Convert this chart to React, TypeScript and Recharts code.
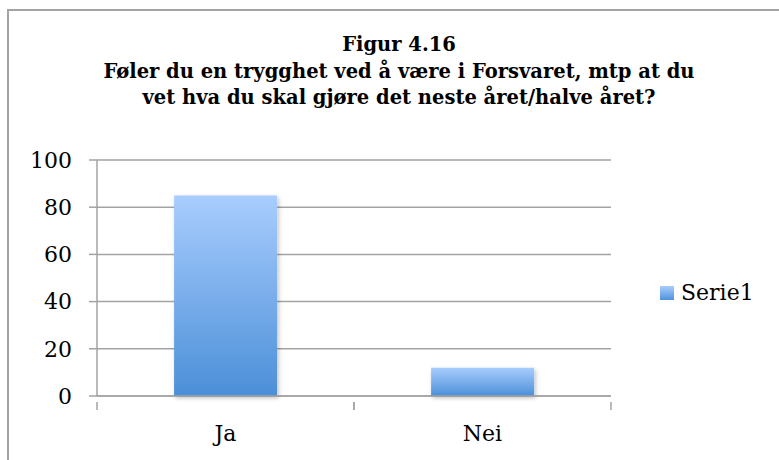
import React from "react";
import {
  BarChart,
  Bar,
  XAxis,
  YAxis,
  CartesianGrid,
  Legend,
} from "recharts";

// values
const categories = ["Ja", "Nei"];
const serie1 = [85, 12];
const yTicks = [0, 20, 40, 60, 80, 100];
const titleLines = [
  "Figur 4.16",
  "Føler du en trygghet ved å være i Forsvaret, mtp at du",
  "vet hva du skal gjøre det neste året/halve året?",
];

const data = categories.map((name, i) => ({ name, Serie1: serie1[i] }));

const FONT = "'DejaVu Serif', serif";
const GREY = "#a3a3a3";

// category label + tick marks on the band edges (Excel style)
const CategoryTick = (props: any) => {
  const { x, y, payload } = props;
  const half = payload && payload.offset ? payload.offset : 0;
  const axisY = y - 23;
  return (
    <g>
      {half > 0 && (
        <>
          <line x1={x - half} x2={x - half} y1={axisY} y2={axisY + 8} stroke={GREY} strokeWidth={1.5} />
          <line x1={x + half} x2={x + half} y1={axisY} y2={axisY + 8} stroke={GREY} strokeWidth={1.5} />
        </>
      )}
      <text
        x={x}
        y={y}
        dy="0.71em"
        textAnchor="middle"
        fontFamily={FONT}
        fontSize={22}
        fill="#000"
      >
        {payload.value}
      </text>
    </g>
  );
};

const renderLegend = (props: any) => {
  const { payload } = props;
  return (
    <div>
      {(payload || []).map((entry: any) => (
        <div
          key={entry.value}
          style={{ display: "flex", alignItems: "center", fontFamily: FONT, fontSize: 22, color: "#000" }}
        >
          <span
            style={{
              display: "inline-block",
              width: 14,
              height: 14,
              marginRight: 7,
              background: "linear-gradient(#a9cdfe, #4f92d9)",
            }}
          />
          {entry.value}
        </div>
      ))}
    </div>
  );
};

export default function App() {
  return (
    <div style={{ position: "relative", width: 779, height: 460, overflow: "hidden", background: "#fff" }}>
      <style>{"body{margin:0}"}</style>
      {/* chart frame, runs past the right and bottom edge like the original */}
      <div
        style={{
          position: "absolute",
          left: 7,
          top: 9,
          width: 820,
          height: 520,
          border: `2px solid ${GREY}`,
        }}
      />
      <div
        style={{
          position: "absolute",
          left: 0,
          width: 798,
          top: 32,
          textAlign: "center",
          fontFamily: FONT,
          fontWeight: "bold",
          fontSize: 19.5,
          lineHeight: "26.5px",
          color: "#000",
        }}
      >
        {titleLines.map((l) => (
          <div key={l}>{l}</div>
        ))}
      </div>
      <div style={{ position: "absolute", left: 0, top: 0 }}>
        <BarChart
          width={779}
          height={460}
          data={data}
          margin={{ top: 160, right: 168, left: 0, bottom: 0 }}
          barCategoryGap="30%"
        >
          <defs>
            <linearGradient id="barFill" x1="0" y1="0" x2="0" y2="1">
              <stop offset="0%" stopColor="#a9cdfe" />
              <stop offset="100%" stopColor="#4b8fd8" />
            </linearGradient>
            <filter id="barShadow" x="-20%" y="-20%" width="140%" height="140%">
              <feDropShadow dx="1.5" dy="2" stdDeviation="2" floodColor="#000" floodOpacity="0.25" />
            </filter>
          </defs>
          <CartesianGrid vertical={false} stroke={GREY} strokeWidth={1.5} />
          <XAxis
            dataKey="name"
            height={64}
            tickLine={false}
            tickMargin={23}
            axisLine={{ stroke: GREY, strokeWidth: 1.5 }}
            tick={<CategoryTick />}
          />
          <YAxis
            width={97}
            domain={[0, 100]}
            ticks={yTicks}
            interval={0}
            tickSize={8}
            tickMargin={17}
            axisLine={{ stroke: GREY, strokeWidth: 1.5 }}
            tickLine={{ stroke: GREY, strokeWidth: 1.5 }}
            tick={{ fontFamily: FONT, fontSize: 22, fill: "#000" }}
          />
          <Legend
            layout="vertical"
            align="center"
            verticalAlign="middle"
            content={renderLegend}
            wrapperStyle={{ left: 660, top: 280, width: 110 }}
          />
          <Bar
            dataKey="Serie1"
            fill="url(#barFill)"
            filter="url(#barShadow)"
            isAnimationActive={false}
          />
        </BarChart>
      </div>
    </div>
  );
}
